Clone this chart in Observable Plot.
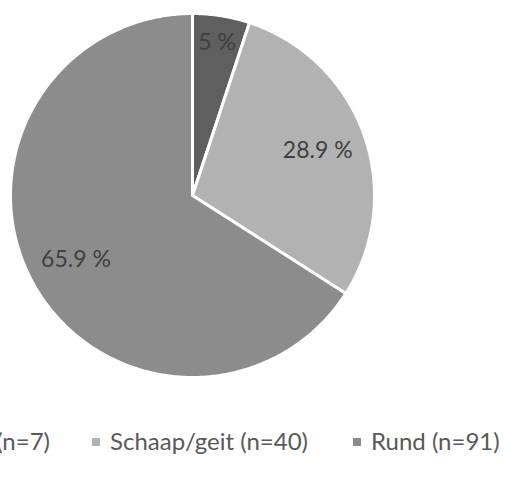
<!DOCTYPE html>
<html><head><meta charset="utf-8">
<script src="https://cdn.jsdelivr.net/npm/d3@7"></script>
<script src="https://cdn.jsdelivr.net/npm/@observablehq/plot@0.6"></script>
<style>
body{margin:0;background:#fff;}
#wrap{position:relative;width:505px;height:477px;overflow:hidden;font-family:Lato,"Open Sans",sans-serif;}
#wrap svg{position:absolute;left:0;top:0;}
.leg{position:absolute;top:426px;font-size:24px;line-height:30px;color:#595959;white-space:nowrap;}
.sw{display:inline-block;width:8px;height:8px;margin-right:10px;vertical-align:4px;}
</style></head><body><div id="wrap"></div>
<script>
const categories = ["Varken", "Schaap/geit", "Rund"];
const counts = [7, 40, 91];
const percentLabels = ["5 %", "28.9 %", "65.9 %"];
const colors = ["#5f5f5f", "#b2b2b2", "#8c8c8c"];

const total = d3.sum(counts);
const slices = [];
let acc = 0;
categories.forEach((name, i) => {
  const a0 = acc / total * 2 * Math.PI;
  acc += counts[i];
  const a1 = acc / total * 2 * Math.PI;
  slices.push({name, a0, a1, share: counts[i] / total, label: percentLabels[i]});
});

// polygon outline of each slice (geometry sampling of the arc)
const outline = [];
slices.forEach(s => {
  outline.push({name: s.name, x: 0, y: 0});
  const steps = Math.max(4, Math.ceil((s.a1 - s.a0) / 0.01));
  for (let k = 0; k <= steps; k++) {
    const a = s.a0 + (s.a1 - s.a0) * k / steps;
    outline.push({name: s.name, x: Math.sin(a), y: Math.cos(a)});
  }
});
const labelPos = slices.map(s => {
  const m = (s.a0 + s.a1) / 2;
  const r = s.share < 0.1 ? 0.85 : 0.73;
  return {label: s.label, x: r * Math.sin(m), y: r * Math.cos(m)};
});

const chart = Plot.plot({
  width: 505,
  height: 410,
  marginLeft: 10,
  marginRight: 131,
  marginTop: 13,
  marginBottom: 33,
  x: {domain: [-1, 1], axis: null},
  y: {domain: [-1, 1], axis: null},
  color: {domain: categories, range: colors},
  style: {background: "#fff", fontFamily: "Lato, 'Open Sans', sans-serif"},
  marks: [
    Plot.line(outline, {x: "x", y: "y", z: "name", fill: "name", stroke: "white", strokeWidth: 3, curve: "linear-closed"}),
    Plot.text(labelPos, {x: "x", y: "y", text: "label", fontSize: 23, fill: "#404040"})
  ]
});
const wrap = document.getElementById("wrap");
wrap.appendChild(chart);

const legendPos = [{right: 455}, {left: 92}, {left: 353}];
categories.forEach((name, i) => {
  const d = document.createElement("div");
  d.className = "leg";
  const p = legendPos[i];
  if (p.left != null) d.style.left = p.left + "px"; else d.style.right = p.right + "px";
  d.innerHTML = `<span class="sw" style="background:${colors[i]}"></span>${name} (n=${counts[i]})`;
  wrap.appendChild(d);
});
</script>
</body></html>
